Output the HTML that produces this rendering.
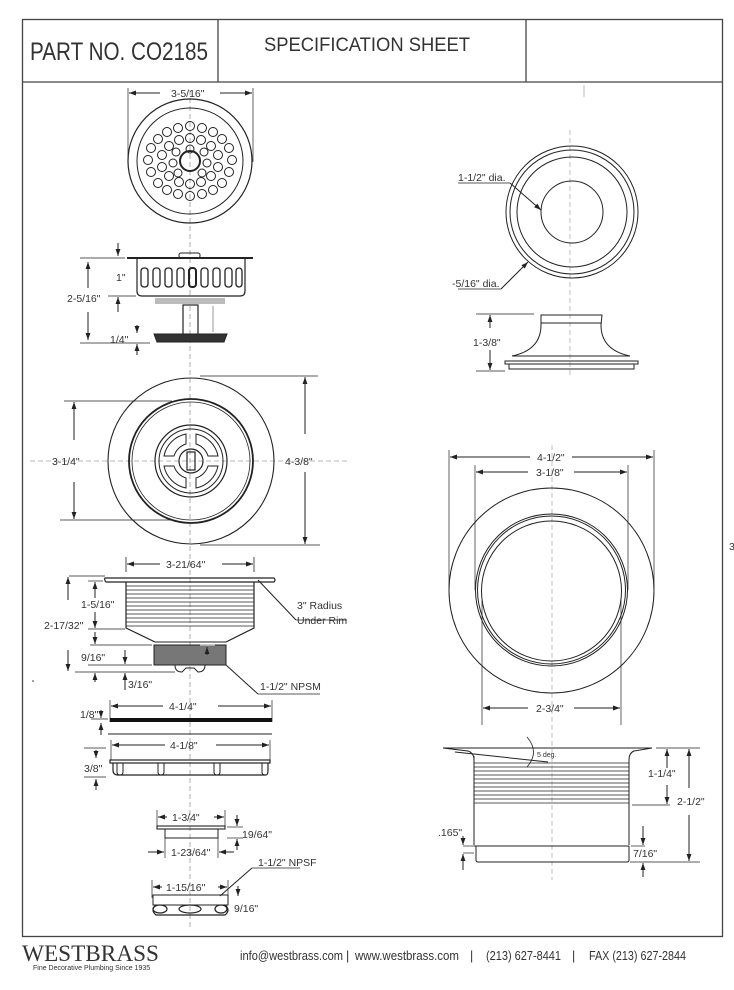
<!DOCTYPE html>
<html><head><meta charset="utf-8"><style>
html,body{margin:0;padding:0;background:#fff}
svg{display:block}
text{font-family:"Liberation Sans",sans-serif;fill:#333}
</style></head><body>
<svg width="734" height="990" viewBox="0 0 734 990" xmlns="http://www.w3.org/2000/svg">
<defs>
<marker id="a" viewBox="0 0 10 10" refX="10" refY="5" markerWidth="7" markerHeight="7" orient="auto-start-reverse"><path d="M0,1.5 L10,5 L0,8.5z" fill="#222"/></marker>
</defs>
<rect x="22.5" y="19.5" width="700" height="917" fill="none" stroke="#444" stroke-width="1.3"/>
<line x1="22" y1="82" x2="723" y2="82" stroke="#444" stroke-width="1.3"/>
<line x1="218" y1="19" x2="218" y2="82" stroke="#444" stroke-width="1.3"/>
<line x1="526" y1="19" x2="526" y2="82" stroke="#444" stroke-width="1.3"/>
<text x="30" y="60" font-size="25" textLength="178" lengthAdjust="spacingAndGlyphs" fill="#222">PART NO. CO2185</text>
<text x="264" y="51" font-size="19" textLength="206" lengthAdjust="spacingAndGlyphs" fill="#222">SPECIFICATION SHEET</text>
<line x1="584" y1="85" x2="584" y2="97" stroke="#bbb"/>

<g stroke="#222" fill="none" stroke-width="1">
<line x1="190" y1="90" x2="190" y2="930" stroke="#777" stroke-width="0.6" stroke-dasharray="5,3"/>
<line x1="570" y1="130" x2="570" y2="375" stroke="#999" stroke-width="0.6" stroke-dasharray="5,3"/>
<line x1="552" y1="445" x2="552" y2="880" stroke="#999" stroke-width="0.6" stroke-dasharray="5,3"/>
<line x1="30" y1="461" x2="350" y2="461" stroke="#777" stroke-width="0.6" stroke-dasharray="5,3"/>

<line x1="128" y1="88" x2="128" y2="162" stroke-width="0.7"/>
<line x1="253" y1="88" x2="253" y2="162" stroke-width="0.7"/>
<line x1="160" y1="93" x2="129" y2="93" marker-end="url(#a)"/>
<line x1="220" y1="93" x2="252" y2="93" marker-end="url(#a)"/>
<circle cx="190" cy="161" r="62" stroke-width="1.2"/>
<circle cx="190" cy="161" r="53"/>
<circle cx="190" cy="161" r="10" stroke-width="2"/>
<g stroke-width="1">
<circle cx="190" cy="126" r="4.5"/><circle cx="178" cy="128" r="4.5"/><circle cx="202" cy="128" r="4.5"/><circle cx="167" cy="132" r="4.5"/><circle cx="213" cy="132" r="4.5"/><circle cx="158" cy="139" r="4.5"/><circle cx="222" cy="139" r="4.5"/>
<circle cx="151" cy="148" r="4.5"/><circle cx="229" cy="148" r="4.5"/><circle cx="148" cy="160" r="4.5"/><circle cx="232" cy="160" r="4.5"/><circle cx="151" cy="172" r="4.5"/><circle cx="229" cy="172" r="4.5"/>
<circle cx="158" cy="183" r="4.5"/><circle cx="222" cy="183" r="4.5"/><circle cx="167" cy="190" r="4.5"/><circle cx="213" cy="190" r="4.5"/><circle cx="178" cy="194" r="4.5"/><circle cx="202" cy="194" r="4.5"/><circle cx="190" cy="196" r="4.5"/>
<circle cx="190" cy="138" r="4.5"/><circle cx="179" cy="140" r="4.5"/><circle cx="201" cy="140" r="4.5"/><circle cx="169" cy="146" r="4.5"/><circle cx="211" cy="146" r="4.5"/><circle cx="162" cy="155" r="4.5"/><circle cx="218" cy="155" r="4.5"/>
<circle cx="162" cy="167" r="4.5"/><circle cx="218" cy="167" r="4.5"/><circle cx="169" cy="176" r="4.5"/><circle cx="211" cy="176" r="4.5"/><circle cx="179" cy="182" r="4.5"/><circle cx="201" cy="182" r="4.5"/><circle cx="190" cy="184" r="4.5"/>
<circle cx="190" cy="149" r="4"/><circle cx="176" cy="152" r="4"/><circle cx="204" cy="152" r="4"/><circle cx="173" cy="163" r="4"/><circle cx="207" cy="163" r="4"/><circle cx="178" cy="173" r="4"/><circle cx="202" cy="173" r="4"/>
</g>

<line x1="127" y1="258" x2="253" y2="258" stroke-width="2"/>
<rect x="179" y="253" width="21" height="5" rx="2"/>
<path d="M137,258 V291 Q137,296 142,296 H240 Q245,296 245,291 V258" stroke-width="1.2"/>
<g stroke-width="1.3">
<rect x="141" y="268" width="7" height="19" rx="3"/><rect x="153" y="268" width="7" height="19" rx="3"/><rect x="165" y="268" width="7" height="19" rx="3"/><rect x="177" y="268" width="7" height="19" rx="3"/><rect x="189" y="268" width="7" height="19" rx="3" stroke-width="2"/><rect x="201" y="268" width="7" height="19" rx="3"/><rect x="213" y="268" width="7" height="19" rx="3"/><rect x="225" y="268" width="7" height="19" rx="3"/><rect x="236" y="268" width="6" height="19" rx="3"/>
</g>
<rect x="155" y="298" width="70" height="6" fill="#bbb" stroke="none"/>
<rect x="183" y="305" width="15" height="30" stroke-width="1.2"/>
<line x1="213" y1="306" x2="213" y2="332" stroke="#bbb" stroke-width="1.5"/>
<path d="M154,334 H227 L224,342 H157z" fill="#333"/>
<line x1="88" y1="262" x2="88" y2="288" marker-start="url(#a)"/>
<line x1="88" y1="312" x2="88" y2="340" marker-end="url(#a)"/>
<line x1="80" y1="258" x2="125" y2="258" stroke-width="0.7"/>
<line x1="80" y1="343" x2="150" y2="343" stroke-width="0.7"/>
<line x1="118" y1="243" x2="118" y2="256" marker-end="url(#a)"/>
<line x1="118" y1="312" x2="118" y2="297" marker-end="url(#a)"/>
<line x1="108" y1="296" x2="136" y2="296" stroke-width="0.7"/>
<line x1="137" y1="325" x2="137" y2="333" marker-end="url(#a)"/>
<line x1="137" y1="355" x2="137" y2="344" marker-end="url(#a)"/>

<circle cx="191" cy="461" r="83" stroke-width="1.1"/>
<circle cx="191" cy="461" r="62" stroke-width="1.8"/>
<circle cx="191" cy="461" r="59" stroke-width="0.8"/>
<circle cx="191" cy="461" r="36" stroke-width="1.2"/>
<circle cx="191" cy="461" r="32"/>
<circle cx="191" cy="461" r="12" stroke-width="1.2"/>
<path d="M164,456 A28,28 0 0 1 186,434 V444 A18,18 0 0 0 174,456z"/>
<path d="M218,456 A28,28 0 0 0 196,434 V444 A18,18 0 0 1 208,456z"/>
<path d="M164,466 A28,28 0 0 0 186,488 V478 A18,18 0 0 1 174,466z"/>
<path d="M218,466 A28,28 0 0 1 196,488 V478 A18,18 0 0 0 208,466z"/>
<rect x="187" y="452" width="8" height="18" stroke-width="1.2"/>
<line x1="64" y1="401" x2="172" y2="401" stroke-width="0.7"/>
<line x1="60" y1="520" x2="172" y2="520" stroke-width="0.7"/>
<line x1="74" y1="440" x2="74" y2="402" marker-end="url(#a)"/>
<line x1="74" y1="482" x2="74" y2="519" marker-end="url(#a)"/>
<line x1="200" y1="376" x2="318" y2="376" stroke-width="0.7"/>
<line x1="200" y1="545" x2="320" y2="545" stroke-width="0.7"/>
<line x1="305" y1="434" x2="305" y2="377" marker-end="url(#a)"/>
<line x1="305" y1="472" x2="305" y2="544" marker-end="url(#a)"/>

<line x1="126" y1="557" x2="126" y2="572" stroke-width="0.8"/>
<line x1="254" y1="557" x2="254" y2="572" stroke-width="0.8"/>
<line x1="160" y1="564" x2="127" y2="564" marker-end="url(#a)"/>
<line x1="222" y1="564" x2="253" y2="564" marker-end="url(#a)"/>
<path d="M105,578 H274 Q276,580 274,582 H106 Q104,580 105,578z" stroke-width="1.2"/>
<path d="M126,582 V628 L155,642 M254,582 V628 L226,642" stroke-width="1.2"/>
<g stroke-width="0.8">
<line x1="126" y1="586" x2="254" y2="586"/><line x1="126" y1="590" x2="254" y2="590"/><line x1="126" y1="594" x2="254" y2="594"/><line x1="126" y1="598" x2="254" y2="598"/><line x1="126" y1="602" x2="254" y2="602"/><line x1="126" y1="606" x2="254" y2="606"/><line x1="126" y1="610" x2="254" y2="610"/><line x1="126" y1="614" x2="254" y2="614"/><line x1="126" y1="618" x2="254" y2="618"/><line x1="126" y1="622" x2="254" y2="622"/><line x1="126" y1="626" x2="254" y2="626"/>
</g>
<line x1="155" y1="642" x2="226" y2="642"/>
<rect x="154" y="645" width="72" height="20" fill="#777" stroke="#222"/>
<path d="M175,665 Q175,672 182,672 L186,668 L194,668 L198,672 Q205,672 205,665" />
<line x1="200" y1="645" x2="215" y2="645" stroke="#bbb" stroke-width="1.5"/>
<line x1="207" y1="655" x2="207" y2="647" marker-end="url(#a)"/>
<line x1="258" y1="580" x2="296" y2="620"/><line x1="296" y1="620" x2="347" y2="620" stroke-width="0.8"/>
<line x1="226" y1="665" x2="258" y2="694"/><line x1="258" y1="694" x2="320" y2="694" stroke-width="0.8"/>
<line x1="69" y1="576" x2="105" y2="576" stroke-width="0.7"/>
<line x1="75" y1="672" x2="175" y2="672" stroke-width="0.7"/>
<line x1="68" y1="600" x2="68" y2="577" marker-end="url(#a)"/>
<line x1="68" y1="650" x2="68" y2="671" marker-end="url(#a)"/>
<line x1="88" y1="581" x2="103" y2="581" stroke-width="0.7"/>
<line x1="88" y1="629" x2="125" y2="629" stroke-width="0.7"/>
<line x1="90" y1="645" x2="152" y2="645" stroke-width="0.7"/>
<line x1="88" y1="665" x2="152" y2="665" stroke-width="0.7"/>
<line x1="95" y1="598" x2="95" y2="582" marker-end="url(#a)"/>
<line x1="95" y1="612" x2="95" y2="628" marker-end="url(#a)"/>
<line x1="95" y1="632" x2="95" y2="644" marker-end="url(#a)"/>
<line x1="125" y1="650" x2="125" y2="664" marker-end="url(#a)"/>
<line x1="95" y1="682" x2="95" y2="673" marker-end="url(#a)"/>
<line x1="125" y1="690" x2="125" y2="673" marker-end="url(#a)"/>

<line x1="110" y1="700" x2="110" y2="722" stroke-width="0.7"/>
<line x1="272" y1="700" x2="272" y2="722" stroke-width="0.7"/>
<line x1="163" y1="706" x2="111" y2="706" marker-end="url(#a)"/>
<line x1="218" y1="706" x2="271" y2="706" marker-end="url(#a)"/>
<rect x="110" y="718" width="162" height="4" fill="#111" stroke="none"/>
<line x1="91" y1="719" x2="108" y2="719" stroke-width="0.7"/>
<line x1="101" y1="710" x2="101" y2="718" marker-end="url(#a)"/>
<line x1="101" y1="735" x2="101" y2="723" marker-end="url(#a)"/>
<line x1="108" y1="734" x2="272" y2="734"/>
<line x1="111" y1="740" x2="111" y2="760" stroke-width="0.7"/>
<line x1="270" y1="740" x2="270" y2="760" stroke-width="0.7"/>
<line x1="165" y1="745" x2="112" y2="745" marker-end="url(#a)"/>
<line x1="216" y1="745" x2="269" y2="745" marker-end="url(#a)"/>
<rect x="110" y="760" width="160" height="3" stroke-width="1.2"/>
<path d="M113,763 V770 Q113,775 118,775 H266 Q268,775 268,770 V763" stroke-width="1.2"/>
<path d="M117,763 V772 Q117,775 120,775 Q123,775 123,772 V763 M158,763 V772 Q158,775 161,775 Q164,775 164,772 V763 M214,763 V772 Q214,775 217,775 Q220,775 220,772 V763 M262,763 V772 Q262,775 265,775" />
<line x1="84" y1="748" x2="106" y2="748" stroke-width="0.7"/>
<line x1="84" y1="777" x2="106" y2="777" stroke-width="0.7"/>
<line x1="96" y1="750" x2="96" y2="758" marker-end="url(#a)"/>
<line x1="96" y1="790" x2="96" y2="779" marker-end="url(#a)"/>

<line x1="157" y1="810" x2="157" y2="826" stroke-width="0.7"/>
<line x1="225" y1="810" x2="225" y2="826" stroke-width="0.7"/>
<line x1="167" y1="817" x2="158" y2="817" marker-end="url(#a)"/>
<line x1="214" y1="817" x2="224" y2="817" marker-end="url(#a)"/>
<rect x="157" y="826" width="68" height="3" stroke-width="1.1"/>
<rect x="165" y="829" width="53" height="9"/>
<line x1="165" y1="838" x2="165" y2="858" stroke-width="0.7"/>
<line x1="218" y1="838" x2="218" y2="858" stroke-width="0.7"/>
<line x1="148" y1="852" x2="164" y2="852" marker-end="url(#a)"/>
<line x1="234" y1="852" x2="219" y2="852" marker-end="url(#a)"/>
<line x1="227" y1="827" x2="243" y2="827" stroke-width="0.7"/>
<line x1="227" y1="838" x2="243" y2="838" stroke-width="0.7"/>
<line x1="237" y1="815" x2="237" y2="826" marker-end="url(#a)"/>
<line x1="237" y1="850" x2="237" y2="839" marker-end="url(#a)"/>
<line x1="152" y1="880" x2="152" y2="898" stroke-width="0.7"/>
<line x1="228" y1="880" x2="228" y2="898" stroke-width="0.7"/>
<line x1="162" y1="887" x2="153" y2="887" marker-end="url(#a)"/>
<line x1="218" y1="887" x2="227" y2="887" marker-end="url(#a)"/>
<path d="M153,895 H228 V905 H153z"/>
<path d="M156,905 Q150,910 156,915 H225 Q231,910 225,905" stroke-width="1.2"/>
<ellipse cx="160" cy="909" rx="7" ry="4" stroke-width="1.2"/><ellipse cx="190" cy="909" rx="11" ry="4" stroke-width="1.2"/><ellipse cx="221" cy="909" rx="6" ry="4" stroke-width="1.2"/>
<line x1="252" y1="868" x2="220" y2="896"/><line x1="252" y1="868" x2="300" y2="868" stroke-width="0.8"/>
<line x1="238" y1="886" x2="238" y2="896" marker-end="url(#a)"/>

<circle cx="572" cy="212" r="66"/>
<circle cx="572" cy="212" r="62"/>
<circle cx="572" cy="212" r="55"/>
<circle cx="572" cy="212" r="31"/>
<line x1="458" y1="183" x2="510" y2="183" stroke-width="0.8"/>
<line x1="510" y1="183" x2="541" y2="210" marker-end="url(#a)"/>
<line x1="458" y1="289" x2="501" y2="289" stroke-width="0.8"/>
<line x1="501" y1="289" x2="528" y2="262" marker-end="url(#a)"/>
<path d="M541,315 H602 L601,325 Q601,350 630,356 H512 Q541,350 541,325z"/>
<line x1="541" y1="323" x2="601" y2="323"/>
<path d="M505,361 H638 V364 H505z M509,364 V369 H634 V364"/>
<line x1="476" y1="314" x2="534" y2="314" stroke-width="0.7"/>
<line x1="476" y1="371" x2="505" y2="371" stroke-width="0.7"/>
<line x1="490" y1="328" x2="490" y2="315" marker-end="url(#a)"/>
<line x1="490" y1="350" x2="490" y2="370" marker-end="url(#a)"/>

<line x1="449" y1="450" x2="449" y2="590" stroke-width="0.7"/>
<line x1="654" y1="450" x2="654" y2="590" stroke-width="0.7"/>
<line x1="475" y1="465" x2="475" y2="590" stroke-width="0.7"/>
<line x1="628" y1="465" x2="628" y2="590" stroke-width="0.7"/>
<line x1="482" y1="600" x2="482" y2="725" stroke-width="0.7"/>
<line x1="621" y1="600" x2="621" y2="725" stroke-width="0.7"/>
<line x1="530" y1="457" x2="450" y2="457" marker-end="url(#a)"/>
<line x1="572" y1="457" x2="653" y2="457" marker-end="url(#a)"/>
<line x1="528" y1="472" x2="476" y2="472" marker-end="url(#a)"/>
<line x1="574" y1="472" x2="627" y2="472" marker-end="url(#a)"/>
<line x1="528" y1="708" x2="483" y2="708" marker-end="url(#a)"/>
<line x1="574" y1="708" x2="620" y2="708" marker-end="url(#a)"/>
<circle cx="551.5" cy="590.5" r="102.5"/>
<circle cx="551.5" cy="590" r="76"/>
<circle cx="551.5" cy="590" r="74"/>
<circle cx="551.5" cy="591" r="70"/>

<path d="M443,748 H652 L634,751 Q629,753 629,760 V845 M474,760 Q474,753 468,751 L443,748"/>
<line x1="455" y1="752" x2="548" y2="762"/>
<path d="M527,737 Q540,752 527,767" stroke-width="0.8"/>
<line x1="474" y1="756" x2="474" y2="845"/>
<g stroke-width="0.8">
<line x1="474" y1="763" x2="629" y2="763"/><line x1="474" y1="767" x2="629" y2="767"/><line x1="474" y1="771" x2="629" y2="771"/><line x1="474" y1="775" x2="629" y2="775"/><line x1="474" y1="779" x2="629" y2="779"/><line x1="474" y1="783" x2="629" y2="783"/><line x1="474" y1="787" x2="629" y2="787"/><line x1="474" y1="791" x2="629" y2="791"/><line x1="474" y1="795" x2="629" y2="795"/><line x1="474" y1="799" x2="629" y2="799"/><line x1="474" y1="803" x2="629" y2="803"/>
</g>
<line x1="474" y1="846" x2="629" y2="846"/>
<path d="M476,846 V860 Q476,862 478,862 H627 Q629,862 629,860 V846"/>
<line x1="632" y1="805" x2="670" y2="805" stroke-width="0.7"/>
<line x1="656" y1="748" x2="700" y2="748" stroke-width="0.7"/>
<line x1="630" y1="862" x2="700" y2="862" stroke-width="0.7"/>
<line x1="667" y1="768" x2="667" y2="749" marker-end="url(#a)"/>
<line x1="667" y1="785" x2="667" y2="804" marker-end="url(#a)"/>
<line x1="689" y1="788" x2="689" y2="749" marker-end="url(#a)"/>
<line x1="689" y1="815" x2="689" y2="861" marker-end="url(#a)"/>
<line x1="631" y1="846" x2="645" y2="846" stroke-width="0.7"/>
<line x1="643" y1="826" x2="643" y2="845" marker-end="url(#a)"/>
<line x1="643" y1="877" x2="643" y2="863" marker-end="url(#a)"/>
<line x1="463" y1="846" x2="474" y2="846" stroke-width="0.7"/>
<line x1="463" y1="853" x2="474" y2="853" stroke-width="0.7"/>
<line x1="463" y1="836" x2="463" y2="845" marker-end="url(#a)"/>
<line x1="463" y1="870" x2="463" y2="854" marker-end="url(#a)"/>
</g>

<g font-size="10.5">
<text x="171" y="97">3-5/16"</text>
<text x="116" y="281">1"</text>
<text x="67" y="302">2-5/16"</text>
<text x="110" y="343">1/4"</text>
<text x="52" y="465">3-1/4"</text>
<text x="285" y="465">4-3/8"</text>
<text x="166" y="568">3-21/64"</text>
<text x="81" y="608">1-5/16"</text>
<text x="44" y="629">2-17/32"</text>
<text x="81" y="661">9/16"</text>
<text x="128" y="688">3/16"</text>
<text x="297" y="609">3" Radius</text>
<text x="297" y="624">Under Rim</text>
<text x="260" y="690">1-1/2" NPSM</text>
<text x="169" y="710">4-1/4"</text>
<text x="80" y="718">1/8"</text>
<text x="170" y="749">4-1/8"</text>
<text x="84" y="772">3/8"</text>
<text x="172" y="821">1-3/4"</text>
<text x="242" y="838">19/64"</text>
<text x="171" y="856">1-23/64"</text>
<text x="258" y="866">1-1/2" NPSF</text>
<text x="166" y="891">1-15/16"</text>
<text x="234" y="912">9/16"</text>
<text x="458" y="181">1-1/2" dia.</text>
<text x="452" y="287">-5/16" dia.</text>
<text x="473" y="346">1-3/8"</text>
<text x="537" y="461">4-1/2"</text>
<text x="536" y="476">3-1/8"</text>
<text x="536" y="712">2-3/4"</text>
<text x="648" y="777">1-1/4"</text>
<text x="677" y="805">2-1/2"</text>
<text x="438" y="836">.165"</text>
<text x="633" y="857">7/16"</text>
<text x="537" y="757" font-size="7">5 deg.</text>
<text x="729" y="550">3</text>
</g>
<circle cx="33" cy="681" r="0.8" fill="#333"/>

<text x="22" y="961" font-size="23" textLength="137" lengthAdjust="spacingAndGlyphs" fill="#222" style="font-family:'Liberation Serif',serif">WESTBRASS</text>
<text x="33" y="970" font-size="7" fill="#444">Fine Decorative Plumbing Since 1935</text>
<g font-size="12.5" fill="#222">
<text x="240" y="960" textLength="103" lengthAdjust="spacingAndGlyphs">info@westbrass.com</text>
<text x="346" y="960">|</text>
<text x="355" y="960" textLength="104" lengthAdjust="spacingAndGlyphs">www.westbrass.com</text>
<text x="470" y="960">|</text>
<text x="486" y="960" textLength="75" lengthAdjust="spacingAndGlyphs">(213) 627-8441</text>
<text x="572" y="960">|</text>
<text x="589" y="960" textLength="97" lengthAdjust="spacingAndGlyphs">FAX (213) 627-2844</text>
</g>
</svg>
</body></html>
